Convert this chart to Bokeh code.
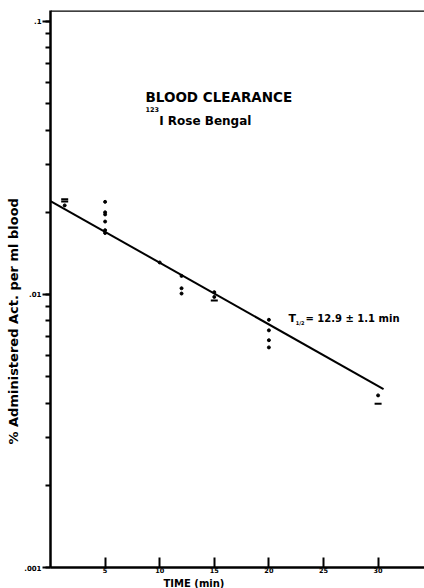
from bokeh.plotting import figure
from bokeh.models import Range1d, LogTicker, FixedTicker, Label, Span, Title
from bokeh.embed import file_html
from bokeh.resources import INLINE

# ---- data ----
line_time = [0.0, 30.5]
line_pct = [0.0220, 0.0045]

dot_time = [1.3, 5, 5, 5, 5, 5, 5, 10, 12, 12, 12, 15, 15, 20, 20, 20, 20, 30]
dot_pct = [0.0212, 0.02185, 0.0200, 0.01965, 0.0185, 0.0172, 0.0168, 0.0131,
           0.0117, 0.01054, 0.01008, 0.0102, 0.0098, 0.00808, 0.00739,
           0.0068, 0.0064, 0.00427]

dash_time = [1.3, 1.3, 15, 30]
dash_pct = [0.02235, 0.0219, 0.0095, 0.00398]

x_ticks = [5, 10, 15, 20, 25, 30]
y_ticks = [0.001, 0.01, 0.1]
y_tick_labels = [".001", ".01", ".1"]

FONT = "DejaVu Sans"
Y_MIN, Y_MAX = 0.001, 0.10972

p = figure(width=424, height=588, y_axis_type="log", title=None,
           x_range=Range1d(0, 34.25), y_range=Range1d(Y_MIN, Y_MAX),
           output_backend="svg", toolbar_location=None,
           min_border_left=50, min_border_right=0, min_border_top=10,
           min_border_bottom=21)
p.outline_line_color = None
p.grid.visible = False
p.background_fill_color = "white"
p.border_fill_color = "white"

# axes
for ax in (p.xaxis[0], p.yaxis[0]):
    ax.axis_line_width = 2.5
    ax.axis_line_color = "black"
    ax.major_tick_line_width = 2
    ax.major_tick_line_color = "black"
    ax.major_label_text_font = FONT
    ax.major_label_text_font_style = "bold"
    ax.major_label_text_font_size = "7px"
    ax.major_label_text_color = "black"

p.xaxis.ticker = FixedTicker(ticks=x_ticks)
p.xaxis.major_tick_in = 10
p.xaxis.major_tick_out = 0
p.xaxis.minor_tick_line_color = None
p.xaxis.major_label_standoff = 0
p.xaxis.major_label_text_font_size = "6.5px"

p.yaxis.ticker = LogTicker(num_minor_ticks=10)
p.yaxis.major_tick_in = 0
p.yaxis.major_tick_out = 8
p.yaxis.minor_tick_in = 0
p.yaxis.minor_tick_out = 5
p.yaxis.minor_tick_line_width = 2
p.yaxis.minor_tick_line_color = "black"
p.yaxis.major_label_standoff = 1
p.yaxis.major_label_overrides = {v: s for v, s in zip(y_ticks, y_tick_labels)}

# top frame line
p.add_layout(Span(location=Y_MAX, dimension="width", line_color="black", line_width=2.5))

# fitted line and data
p.line(line_time, line_pct, line_color="black", line_width=2)
p.scatter(dot_time, dot_pct, marker="circle", size=3, color="black")
p.scatter(dash_time, dash_pct, marker="dash", size=7, line_color="black", line_width=2)

def lab(x, y, text, size, **kw):
    p.add_layout(Label(x=x, y=y, text=text, text_font=FONT, text_font_style="bold",
                       text_font_size=size, text_color="black", **kw))

lab(8.7, 0.05311, "BLOOD CLEARANCE", "13.5px", text_baseline="alphabetic")
lab(8.7, 0.04759, "123", "6.5px", text_baseline="alphabetic")
lab(9.95, 0.04338, "I Rose Bengal", "12px", text_baseline="alphabetic")

lab(21.8, 0.008165, "T", "11px", text_baseline="alphabetic")
lab(22.45, 0.007894, "1/2", "5px", text_baseline="alphabetic")
lab(23.35, 0.008165, "= 12.9 \u00b1 1.1 min", "10px", text_baseline="alphabetic")

# axis titles placed like the reference (shifted from the frame centre)
p.add_layout(Title(text="TIME (min)", align="left", offset=113, standoff=0,
                   text_font=FONT, text_font_style="bold",
                   text_font_size="10px", text_color="black"), "below")
p.add_layout(Title(text="% Administered Act. per ml blood", align="left", offset=123,
                   standoff=2, text_font=FONT, text_font_style="bold",
                   text_font_size="13px", text_color="black"), "left")

open("out.html", "w").write(file_html(p, INLINE))
